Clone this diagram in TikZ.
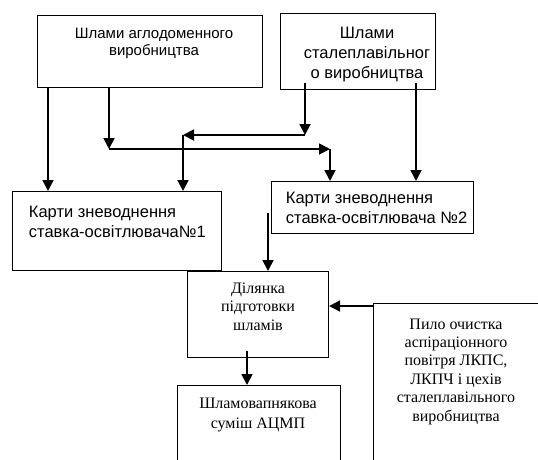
\documentclass[tikz,border=0pt]{standalone}
\usepackage{fontspec}
\setmainfont{Liberation Serif}
\newfontfamily\arialfont{Liberation Sans}
\usetikzlibrary{arrows.meta}

\begin{document}
\begin{tikzpicture}[x=1pt,y=-1pt,->,>={Triangle[length=11pt,width=11pt]},line width=1.8pt,
	box/.style={draw,line width=1.1pt,inner sep=0pt,anchor=north west},
	sanstxt/.style={font=\arialfont\fontsize{16.5}{20}\selectfont,inner sep=0pt},
	seriftxt/.style={font=\fontsize{16}{18.4}\selectfont,inner sep=0pt,align=center}]

	\useasboundingbox (0,0) rectangle (538,459);

	\node[box,minimum width=225pt,minimum height=72pt] (aglo) at (37,15) {};
	\node[box,minimum width=155pt,minimum height=76pt] (stal) at (280,13) {};
	\node[box,minimum width=209pt,minimum height=79pt] (karta1) at (12,191) {};
	\node[box,minimum width=202pt,minimum height=52pt] (karta2) at (271,181) {};
	\node[box,minimum width=141pt,minimum height=86pt] (dil) at (187,271) {};
	\node[box,minimum width=163pt,minimum height=90pt] (sum) at (177,385) {};
	\node[box,minimum width=180pt,minimum height=170pt] (pylo) at (373,303) {};

	\node[sanstxt,font=\arialfont\fontsize{15}{16.5}\selectfont,align=center,anchor=base] (aglotxt) at (154,55) {Шлами аглодоменного\\виробництва};
	\node[sanstxt,align=center,anchor=base] (staltxt) at (367,78) {Шлами\\сталеплавільног\\о виробництва};
	\node[sanstxt,align=left,anchor=base west] (karta1txt) at (28,237) {Карти зневоднення\\ставка-освітлювача№1};
	\node[sanstxt,align=left,anchor=base west] (karta2txt) at (285,223) {Карти зневоднення\\ставка-освітлювача №2};
	\node[seriftxt,anchor=base] (diltxt) at (258,330) {Ділянка\\підготовки\\шламів};
	\node[seriftxt,font=\fontsize{16}{20}\selectfont,anchor=base] (sumtxt) at (258,428) {Шламовапнякова\\суміш АЦМП};
	\node[seriftxt,anchor=base] (pylotxt) at (456,421) {Пило очистка\\аспіраціонного\\повітря ЛКПС,\\ЛКПЧ і цехів\\сталеплавільного\\виробництва};

	\coordinate (j1) at (109,149);
	\coordinate (j2) at (330,149);
	\coordinate (j3) at (305,135);
	\coordinate (j4) at (183,135);

	\path
	([xshift=11pt]aglo.south west) edge ([xshift=36pt]karta1.north west)
	([xshift=72pt]aglo.south west) edge (j1)
	(j1) edge (j2)
	(j2) edge (j2 |- karta2.north)
	([xshift=25pt,yshift=7pt]stal.south west) edge (j3)
	(j3) edge (j4)
	(j4) edge (j4 |- karta1.north)
	([xshift=136pt,yshift=7pt]stal.south west) edge ([xshift=145pt]karta2.north west)
	([xshift=-3pt,yshift=-5pt]karta2.west) edge ([xshift=81pt]dil.north west)
	([yshift=-3pt]pylo.north west) edge ([yshift=-35pt]dil.north east)
	([xshift=60pt,yshift=7pt]dil.south west) edge ([xshift=70pt]sum.north west)
	;
\end{tikzpicture}
\end{document}
